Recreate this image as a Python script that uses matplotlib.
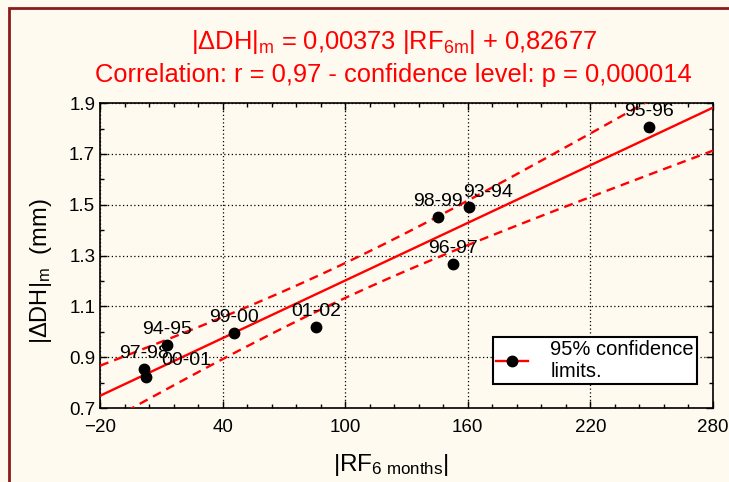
import numpy as np
import matplotlib
matplotlib.use("Agg")
import matplotlib.pyplot as plt
import matplotlib.patches as patches
from matplotlib.lines import Line2D

plt.rcParams["font.family"] = ["Liberation Sans", "DejaVu Sans"]
plt.rcParams["mathtext.fontset"] = "custom"
plt.rcParams["mathtext.rm"] = "Liberation Sans"
plt.rcParams["mathtext.it"] = "Liberation Sans"

# data
seasons = ["97-98", "00-01", "94-95", "99-00", "01-02", "98-99", "93-94", "96-97", "95-96"]
rf6 = np.array([1.5, 2.4, 12.7, 45.4, 85.9, 145.4, 160.5, 152.7, 248.8])
dh = np.array([0.853, 0.822, 0.948, 0.995, 1.018, 1.451, 1.490, 1.266, 1.805])
x_ticks = [-20, 40, 100, 160, 220, 280]
y_ticks = [0.7, 0.9, 1.1, 1.3, 1.5, 1.7, 1.9]
t_975 = 2.365  # Student t, 7 dof

# label offsets (points) relative to each marker
label_off = {"00-01": (29, 12), "93-94": (14, 11)}

RED = "#ff0000"
BG = "#fffaf0"

# linear fit + 95% confidence band of the mean
n = len(rf6)
slope, icpt = np.polyfit(rf6, dh, 1)
resid = dh - (slope * rf6 + icpt)
s = np.sqrt(np.sum(resid ** 2) / (n - 2))
sxx = np.sum((rf6 - rf6.mean()) ** 2)
xs = np.linspace(-20, 280, 200)
fit = slope * xs + icpt
half = t_975 * s * np.sqrt(1 / n + (xs - rf6.mean()) ** 2 / sxx)

fig = plt.figure(figsize=(7.29, 4.82), dpi=100, facecolor=BG)
ax = fig.add_axes([0.1372, 0.1535, 0.8408, 0.6325], facecolor=BG)

ax.plot(xs, fit, color=RED, lw=1.7, zorder=3)
ax.plot(xs, fit + half, color=RED, lw=1.7, ls=(0, (3.8, 2.6)), zorder=3)
ax.plot(xs, fit - half, color=RED, lw=1.7, ls=(0, (3.8, 2.6)), zorder=3)
ax.plot(rf6, dh, "o", color="black", ms=7.5, zorder=4)

for name, x, y in zip(seasons, rf6, dh):
    dx, dy = label_off.get(name, (0, 11.5))
    ax.annotate(name, (x, y), xytext=(dx, dy), textcoords="offset points",
                ha="center", va="center", fontsize=14, color="black", zorder=5)

ax.set_xlim(-20, 280)
ax.set_ylim(0.7, 1.9)
ax.set_xticks(x_ticks)
ax.set_yticks(y_ticks)
ax.set_xticks(np.arange(-20, 281, 12), minor=True)
ax.set_yticks(np.arange(0.7, 1.91, 0.1), minor=True)
ax.set_yticklabels([f"{v:.1f}" for v in y_ticks])
ax.tick_params(which="both", direction="in", top=True, right=True,
               labelsize=13.5, colors="black", width=1)
ax.tick_params(which="major", length=5)
ax.tick_params(which="minor", length=3)
ax.tick_params(axis="x", pad=8)
ax.grid(True, which="major", color="black", ls=(0, (1, 2)), lw=0.9)
for sp in ax.spines.values():
    sp.set_linewidth(1.2)

ax.set_xlabel(r"|RF$_\mathregular{6\ months}$|", fontsize=17.5, labelpad=2)
ax.set_ylabel(r"|$\Delta$DH|$_\mathregular{m}$  (mm)", fontsize=17, labelpad=2)
ax.yaxis.set_label_coords(-0.075, 0.45)
ax.xaxis.set_label_coords(0.475, -0.145)

fig.text(0.54, 0.913, r"|$\Delta$DH|$_\mathregular{m}$ = 0,00373 |RF$_\mathregular{6m}$| + 0,82677",
         ha="center", va="center", color=RED, fontsize=18.4)
fig.text(0.54, 0.845, "Correlation: r = 0,97 - confidence level: p = 0,000014",
         ha="center", va="center", color=RED, fontsize=18.4)

handle = Line2D([], [], color=RED, lw=1.7, marker="o", mfc="black", mec="black", ms=7.5)
leg = ax.legend([handle], ["95% confidence\nlimits."], loc="lower right",
                bbox_to_anchor=(0.974, 0.079), fontsize=14.5, frameon=True,
                fancybox=False, edgecolor="black", facecolor="white", framealpha=1,
                handlelength=1.6, handletextpad=1.1, borderpad=0.15, labelspacing=0.05,
                borderaxespad=0)
leg.get_frame().set_linewidth(1.5)

# dark red outer frame
fig.patches.append(patches.Rectangle((9 / 729, -0.1), 1.2, 1 - 8 / 482 + 0.1,
                                     transform=fig.transFigure, fill=False,
                                     edgecolor="#8b1a1a", lw=2, zorder=0))

fig.savefig("out.png", dpi=100, facecolor=BG)
